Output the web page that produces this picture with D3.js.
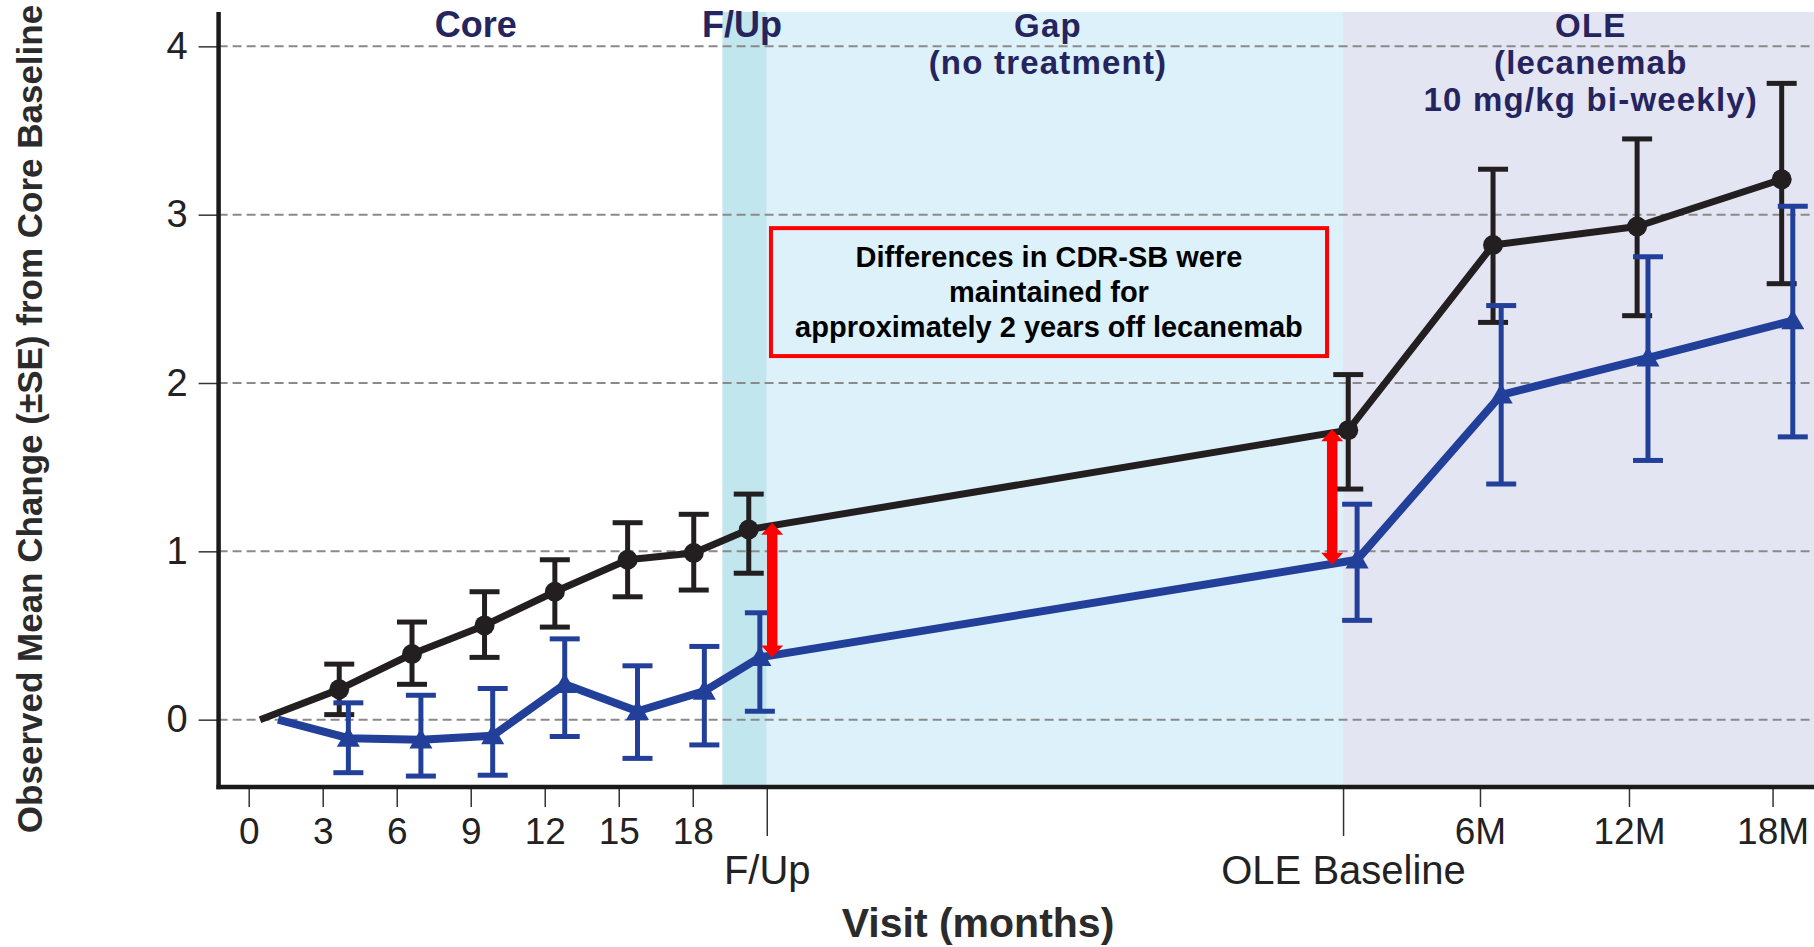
<!DOCTYPE html>
<html>
<head>
<meta charset="utf-8">
<script src="https://cdn.jsdelivr.net/npm/d3@7"></script>
<style>
  html, body { margin: 0; padding: 0; background: #ffffff; }
  svg { display: block; }
</style>
</head>
<body>
<svg id="chart" width="1814" height="947"></svg>
<script>
// ---- Axis ticks (visit timeline in months from core baseline; gap period compressed) ----
const coreTicks = [0, 3, 6, 9, 12, 15, 18];
const coreTickLabels = ["0", "3", "6", "9", "12", "15", "18"];
const oleTicks = [49.91, 55.95, 61.77];
const oleTickLabels = ["6M", "12M", "18M"];
const milestoneTicks = [21, 44.36];
const milestoneLabels = ["F/Up", "OLE Baseline"];
const yTicks = [0, 1, 2, 3, 4];

// ---- Study phases ----
const phaseNames = ["Core", "F/Up", "Gap", "OLE"];
const phaseStart = [-1.22, 19.2, 21, 44.36];
const phaseEnd = [19.2, 21, 44.36, 63.45];
const phaseHeader = [["Core"], ["F/Up"], ["Gap", "(no treatment)"], ["OLE", "(lecanemab", "10 mg/kg bi-weekly)"]];
const phaseHeaderAt = [9.2, 20.0, 32.4, 54.4];

// ---- Placebo (core) : observed mean change in CDR-SB ± SE ----
const placeboTime = [0.46, 3.67, 6.62, 9.56, 12.41, 15.36, 18.04, 20.27, 44.57, 50.44, 56.28, 62.14];
const placeboMean = [0, 0.18, 0.39, 0.56, 0.76, 0.95, 0.99, 1.13, 1.72, 2.82, 2.93, 3.21];
const placeboLow  = [null, 0.03, 0.21, 0.37, 0.55, 0.73, 0.77, 0.87, 1.37, 2.36, 2.40, 2.59];
const placeboHigh = [null, 0.33, 0.58, 0.76, 0.95, 1.17, 1.22, 1.34, 2.05, 3.27, 3.45, 3.78];

// ---- Lecanemab 10 mg/kg bi-weekly (core) ----
const lecTime = [1.19, 4.04, 6.98, 9.89, 12.81, 15.76, 18.47, 20.72, 44.93, 50.77, 56.72, 62.59];
const lecMean = [0, -0.11, -0.12, -0.095, 0.21, 0.05, 0.17, 0.37, 0.95, 1.93, 2.15, 2.37];
const lecLow  = [null, -0.315, -0.335, -0.33, -0.10, -0.23, -0.15, 0.05, 0.59, 1.40, 1.54, 1.68];
const lecHigh = [null, 0.10, 0.145, 0.185, 0.48, 0.32, 0.435, 0.635, 1.28, 2.46, 2.75, 3.05];

// ---- Difference arrows and callout ----
const arrowTime = [21.22, 43.92];
const arrowTop = [1.17, 1.725];
const arrowBottom = [0.37, 0.92];
const calloutLines = ["Differences in CDR-SB were", "maintained for", "approximately 2 years off lecanemab"];
const calloutRange = { t0: 21.17, t1: 43.71, v0: 2.92, v1: 2.16 };

// ---------------------------------------------------------------
const W = 1814, H = 947;
const FONT = "'Liberation Sans', Arial, Helvetica, sans-serif";
const NAVY = "#25245f";
const INK = "#231f20";
const BLUE = "#22409a";
const RED = "#ff0000";

const svg = d3.select("#chart");

const x = d3.scaleLinear().domain([-1.22, 63.45]).range([218.6, 1814]);
const y = d3.scaleLinear().domain([-0.40, 4.204]).range([787, 12]);

// Phase shading
const bandColors = ["#ffffff", "#c2e6ee", "#ddf1fa", "#e3e5f2"];
svg.append("g").selectAll("rect")
  .data(phaseNames.map((n, i) => i))
  .join("rect")
  .attr("x", i => x(phaseStart[i]))
  .attr("width", i => x(phaseEnd[i]) - x(phaseStart[i]))
  .attr("y", y(4.204))
  .attr("height", y(-0.40) - y(4.204))
  .attr("fill", i => bandColors[i]);

// Dashed horizontal gridlines
svg.append("g").selectAll("line")
  .data(yTicks)
  .join("line")
  .attr("x1", x(-1.22)).attr("x2", W)
  .attr("y1", d => y(d)).attr("y2", d => y(d))
  .attr("stroke", "#8a8a8a")
  .attr("stroke-width", 2)
  .attr("stroke-dasharray", "9,5");

// Phase headers
const headers = svg.append("g")
  .attr("font-family", FONT)
  .attr("font-weight", "bold")
  .attr("fill", NAVY)
  .attr("text-anchor", "middle");
const headerBaselines = [37, 74, 111];
phaseHeader.forEach((lines, i) => {
  const multi = lines.length > 1;
  lines.forEach((txt, j) => {
    headers.append("text")
      .attr("x", x(phaseHeaderAt[i]))
      .attr("y", headerBaselines[j])
      .attr("font-size", multi ? 33 : 36)
      .attr("letter-spacing", multi ? 1.2 : 0)
      .text(txt);
  });
});

// Callout box
const cb = svg.append("g");
const bx0 = x(calloutRange.t0), bx1 = x(calloutRange.t1);
const by0 = y(calloutRange.v0), by1 = y(calloutRange.v1);
cb.append("rect")
  .attr("x", bx0).attr("y", by0)
  .attr("width", bx1 - bx0).attr("height", by1 - by0)
  .attr("fill", "none")
  .attr("stroke", RED)
  .attr("stroke-width", 4);
cb.selectAll("text")
  .data(calloutLines)
  .join("text")
  .attr("x", (bx0 + bx1) / 2)
  .attr("y", (d, i) => by0 + 39 + i * 35)
  .attr("text-anchor", "middle")
  .attr("font-family", FONT)
  .attr("font-weight", "bold")
  .attr("font-size", 29)
  .attr("fill", "#000")
  .text(d => d);

// Y axis ticks and labels
const yAxis = svg.append("g")
  .attr("transform", `translate(${x(-1.22)},0)`)
  .call(d3.axisLeft(y).tickValues(yTicks).tickFormat(d3.format("d")).tickSize(20).tickPadding(11));
yAxis.select(".domain").remove();
yAxis.selectAll(".tick line").attr("stroke", "#333").attr("stroke-width", 1.5);
yAxis.selectAll(".tick text")
  .attr("font-family", FONT).attr("font-size", 38).attr("fill", "#222");

// X axis: regular visits
const xAxis = svg.append("g")
  .attr("transform", `translate(0,${y(-0.40)})`)
  .call(d3.axisBottom(x)
    .tickValues(coreTicks.concat(oleTicks))
    .tickFormat(d => {
      const ci = coreTicks.indexOf(d);
      return ci >= 0 ? coreTickLabels[ci] : oleTickLabels[oleTicks.indexOf(d)];
    })
    .tickSize(20).tickPadding(11));
xAxis.select(".domain").remove();
xAxis.selectAll(".tick line").attr("stroke", "#333").attr("stroke-width", 1.5);
xAxis.selectAll(".tick text")
  .attr("font-family", FONT).attr("font-size", 37).attr("fill", "#222");

// X axis: milestone visits (longer ticks, labels on a second row)
const xAxis2 = svg.append("g")
  .attr("transform", `translate(0,${y(-0.40)})`)
  .call(d3.axisBottom(x)
    .tickValues(milestoneTicks)
    .tickFormat((d, i) => milestoneLabels[i])
    .tickSize(49).tickPadding(20));
xAxis2.select(".domain").remove();
xAxis2.selectAll(".tick line").attr("stroke", "#333").attr("stroke-width", 1.5);
xAxis2.selectAll(".tick text")
  .attr("font-family", FONT).attr("font-size", 40).attr("fill", "#222");

// Axis lines
svg.append("line")
  .attr("x1", x(-1.22)).attr("x2", x(-1.22))
  .attr("y1", y(4.204)).attr("y2", y(-0.40) + 2.2)
  .attr("stroke", "#1a1a1a").attr("stroke-width", 4.5);
svg.append("line")
  .attr("x1", x(-1.22) - 2.2).attr("x2", W)
  .attr("y1", y(-0.40)).attr("y2", y(-0.40))
  .attr("stroke", "#1a1a1a").attr("stroke-width", 4.5);

// Axis titles
svg.append("text")
  .attr("transform", `translate(42,419) rotate(-90)`)
  .attr("text-anchor", "middle")
  .attr("font-family", FONT).attr("font-weight", "bold")
  .attr("font-size", 35).attr("fill", "#2b2b2b")
  .text("Observed Mean Change (\u00b1SE) from Core Baseline");
svg.append("text")
  .attr("x", 978).attr("y", 937)
  .attr("text-anchor", "middle")
  .attr("font-family", FONT).attr("font-weight", "bold")
  .attr("font-size", 41).attr("fill", "#2b2b2b")
  .text("Visit (months)");

// Series drawing
function drawSeries(time, mean, low, high, color, lineWidth, marker) {
  const g = svg.append("g");
  const idx = d3.range(time.length);
  g.append("path")
    .datum(idx)
    .attr("fill", "none")
    .attr("stroke", color)
    .attr("stroke-width", lineWidth)
    .attr("stroke-linejoin", "round")
    .attr("d", d3.line().x(i => x(time[i])).y(i => y(mean[i])));
  const eb = idx.filter(i => low[i] !== null);
  const capHalf = 15;
  g.append("g").selectAll("line")
    .data(eb).join("line")
    .attr("x1", i => x(time[i])).attr("x2", i => x(time[i]))
    .attr("y1", i => y(low[i])).attr("y2", i => y(high[i]))
    .attr("stroke", color).attr("stroke-width", 5);
  [low, high].forEach(arr => {
    g.append("g").selectAll("line")
      .data(eb).join("line")
      .attr("x1", i => x(time[i]) - capHalf).attr("x2", i => x(time[i]) + capHalf)
      .attr("y1", i => y(arr[i])).attr("y2", i => y(arr[i]))
      .attr("stroke", color).attr("stroke-width", 5);
  });
  if (marker === "circle") {
    g.append("g").selectAll("circle")
      .data(eb).join("circle")
      .attr("cx", i => x(time[i])).attr("cy", i => y(mean[i]))
      .attr("r", 10).attr("fill", color);
  } else {
    g.append("g").selectAll("path")
      .data(eb).join("path")
      .attr("transform", i => `translate(${x(time[i])},${y(mean[i]) + 2})`)
      .attr("d", d3.symbol().type(d3.symbolTriangle).size(230))
      .attr("fill", color);
  }
}

drawSeries(placeboTime, placeboMean, placeboLow, placeboHigh, INK, 7, "circle");
drawSeries(lecTime, lecMean, lecLow, lecHigh, BLUE, 8, "triangle");

// Double-headed difference arrows
const ag = svg.append("g").attr("fill", RED);
const headLen = 12, headHalf = 11, shaft = 10.5;
arrowTime.forEach((t, i) => {
  const ax = x(t), yt = y(arrowTop[i]), yb = y(arrowBottom[i]);
  ag.append("rect")
    .attr("x", ax - shaft / 2).attr("y", yt + headLen - 1)
    .attr("width", shaft).attr("height", yb - yt - 2 * headLen + 2);
  ag.append("path").attr("d", `M${ax},${yt} L${ax + headHalf},${yt + headLen} L${ax - headHalf},${yt + headLen} Z`);
  ag.append("path").attr("d", `M${ax},${yb} L${ax + headHalf},${yb - headLen} L${ax - headHalf},${yb - headLen} Z`);
});
</script>
</body>
</html>
